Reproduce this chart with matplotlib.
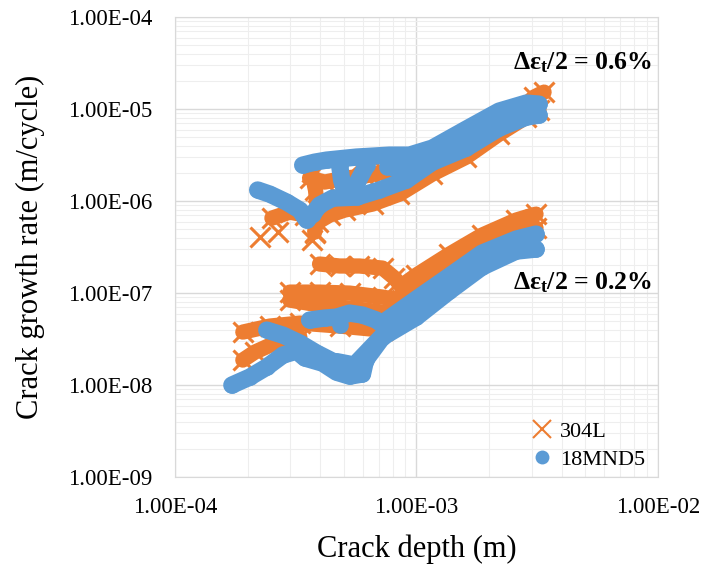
import matplotlib
matplotlib.use('Agg')
import matplotlib.pyplot as plt
from matplotlib.lines import Line2D
from matplotlib.ticker import FuncFormatter, LogLocator

plt.rcParams['font.family'] = ['Liberation Serif', 'DejaVu Serif']
plt.rcParams['mathtext.fontset'] = 'custom'
plt.rcParams['mathtext.rm'] = 'Liberation Serif'
plt.rcParams['mathtext.it'] = 'Liberation Serif:italic'
plt.rcParams['mathtext.bf'] = 'Liberation Serif:bold'

ORANGE = '#ED7D31'
BLUE = '#5B9BD5'

# ---- 304L, strain amplitude 0.6 % ----
o6_low_x = [2.52e-4, 2.99e-4, 3.45e-4, 3.90e-4, 4.37e-4, 5.04e-4, 6.58e-4, 8.51e-4, 1.165e-3, 1.61e-3, 2.20e-3, 2.85e-3, 3.22e-3]
o6_low_y = [6.53e-7, 7.59e-7, 7.04e-7, 5.91e-7, 7.04e-7, 7.98e-7, 9.28e-7, 1.19e-6, 1.97e-6, 3.01e-6, 5.35e-6, 8.18e-6, 9.75e-6]
o6_mid_x = [3.61e-4, 4.17e-4, 5.04e-4, 6.10e-4, 7.38e-4, 9.36e-4]
o6_mid_y = [1.78e-6, 1.61e-6, 1.78e-6, 1.87e-6, 2.07e-6, 2.17e-6]
o6_col_x = [3.68e-4, 3.82e-4, 3.90e-4, 3.79e-4]
o6_col_y = [2.07e-6, 1.32e-6, 7.98e-7, 4.60e-7]
o6_end_x = [2.67e-3, 3.07e-3, 3.38e-3]
o6_end_y = [9.75e-6, 1.35e-5, 1.53e-5]
o6_pts_x = [2.25e-4, 2.67e-4, 3.68e-4, 3.82e-4]
o6_pts_y = [4.06e-7, 4.60e-7, 3.77e-7, 4.49e-7]

# ---- 304L, strain amplitude 0.2 % ----
o2_up_x = [8.75e-4, 1.0e-3, 1.37e-3, 1.87e-3, 2.59e-3, 3.13e-3]
o2_up_y = [1.22e-7, 1.57e-7, 2.65e-7, 4.27e-7, 6.22e-7, 7.22e-7]
o2_lo_x = [8.75e-4, 1.37e-3, 1.87e-3, 2.59e-3, 3.13e-3]
o2_lo_y = [8.39e-8, 1.78e-7, 2.93e-7, 4.38e-7, 5.09e-7]
o2_a_x = [3.97e-4, 4.81e-4, 5.81e-4, 7.24e-4, 8.11e-4, 8.92e-4]
o2_a_y = [2.07e-7, 1.97e-7, 1.97e-7, 1.87e-7, 1.46e-7, 1.078e-7]
o2_b1_x = [2.99e-4, 3.97e-4, 5.29e-4, 7.24e-4, 8.51e-4]
o2_b1_y = [1.025e-7, 1.025e-7, 1.0e-7, 9.05e-8, 8.39e-8]
o2_b2_x = [2.99e-4, 3.97e-4, 5.29e-4, 7.24e-4, 8.51e-4]
o2_b2_y = [8.39e-8, 7.41e-8, 6.87e-8, 6.22e-8, 6.22e-8]
o2_c_x = [1.91e-4, 2.47e-4, 3.29e-4, 4.81e-4, 7.24e-4]
o2_c_y = [3.77e-8, 4.38e-8, 4.72e-8, 4.38e-8, 3.96e-8]
o2_d_x = [1.91e-4, 2.14e-4, 2.59e-4, 3.29e-4]
o2_d_y = [1.87e-8, 2.28e-8, 2.86e-8, 3.32e-8]

# ---- 18MND5, strain amplitude 0.6 % ----
b6_low_x = [2.20e-4, 2.47e-4, 2.90e-4, 3.29e-4, 3.51e-4, 3.72e-4, 3.97e-4, 4.50e-4, 5.65e-4, 7.03e-4, 9.09e-4, 1.165e-3, 1.61e-3, 2.20e-3, 2.85e-3, 3.22e-3]
b6_low_y = [1.32e-6, 1.19e-6, 9.75e-7, 7.98e-7, 6.22e-7, 7.22e-7, 9.05e-7, 1.078e-6, 1.105e-6, 1.32e-6, 1.69e-6, 2.65e-6, 3.77e-6, 6.22e-6, 8.18e-6, 8.61e-6]
b6_up_x = [3.38e-4, 3.79e-4, 4.25e-4, 5.65e-4, 7.73e-4, 9.36e-4, 1.165e-3, 1.61e-3, 2.20e-3, 2.85e-3, 3.22e-3]
b6_up_y = [2.46e-6, 2.65e-6, 2.79e-6, 3.01e-6, 3.16e-6, 3.16e-6, 3.77e-6, 6.06e-6, 9.51e-6, 1.162e-5, 1.133e-5]
b6_mid_x = [8.11e-4, 1.165e-3, 1.61e-3, 2.20e-3, 2.93e-3]
b6_mid_y = [2.28e-6, 3.16e-6, 4.84e-6, 7.59e-6, 9.75e-6]
b6_loop1_x = [4.81e-4, 4.90e-4, 5.04e-4]
b6_loop1_y = [2.46e-6, 1.69e-6, 1.32e-6]
b6_loop2_x = [6.22e-4, 5.70e-4]
b6_loop2_y = [2.46e-6, 1.61e-6]
b6_pts_x = [7.52e-4]
b6_pts_y = [2.34e-6]

# ---- 18MND5, strain amplitude 0.2 % ----
b2_up_x = [7.24e-4, 1.0e-3, 1.37e-3, 1.87e-3, 2.59e-3, 3.13e-3]
b2_up_y = [4.72e-8, 8.61e-8, 1.53e-7, 2.72e-7, 3.86e-7, 4.38e-7]
b2_low_x = [1.72e-4, 2.04e-4, 2.40e-4, 2.80e-4, 3.19e-4, 3.45e-4, 4.09e-4, 4.67e-4, 5.29e-4, 5.98e-4, 6.16e-4, 7.24e-4, 1.0e-3, 1.37e-3, 1.87e-3, 2.59e-3, 3.13e-3]
b2_low_y = [1.0e-8, 1.22e-8, 1.57e-8, 2.12e-8, 2.34e-8, 1.97e-8, 1.73e-8, 1.38e-8, 1.25e-8, 1.32e-8, 1.87e-8, 3.32e-8, 5.48e-8, 1.05e-7, 1.92e-7, 2.86e-7, 3.01e-7]
b2_mid_x = [4.67e-4, 5.54e-4, 8.51e-4, 1.165e-3, 1.61e-3, 2.20e-3, 2.93e-3]
b2_mid_y = [1.80e-8, 1.65e-8, 5.35e-8, 9.28e-8, 1.69e-7, 2.72e-7, 3.58e-7]
b2_br2_x = [2.40e-4, 2.80e-4, 3.29e-4, 3.86e-4, 4.67e-4]
b2_br2_y = [3.96e-8, 3.49e-8, 2.86e-8, 2.23e-8, 1.73e-8]
b2_br3_x = [3.61e-4, 4.17e-4, 4.67e-4, 5.29e-4, 5.98e-4, 6.83e-4, 7.73e-4]
b2_br3_y = [5.09e-8, 5.35e-8, 5.48e-8, 6.06e-8, 5.77e-8, 5.09e-8, 3.96e-8]
b2_pts_x = [4.81e-4]
b2_pts_y = [4.49e-8]

orange_lines = [(o6_low_x, o6_low_y), (o6_mid_x, o6_mid_y), (o6_col_x, o6_col_y), (o6_end_x, o6_end_y),
                (o2_up_x, o2_up_y), (o2_lo_x, o2_lo_y), (o2_a_x, o2_a_y),
                (o2_b1_x, o2_b1_y), (o2_b2_x, o2_b2_y), (o2_c_x, o2_c_y), (o2_d_x, o2_d_y)]
blue_lines = [(b6_low_x, b6_low_y), (b6_up_x, b6_up_y), (b6_mid_x, b6_mid_y), (b6_loop1_x, b6_loop1_y),
              (b6_loop2_x, b6_loop2_y), (b6_pts_x, b6_pts_y), (b2_up_x, b2_up_y), (b2_low_x, b2_low_y),
              (b2_mid_x, b2_mid_y), (b2_br2_x, b2_br2_y), (b2_br3_x, b2_br3_y), (b2_pts_x, b2_pts_y)]

fig = plt.figure(figsize=(7.09, 5.70), dpi=100)
ax = fig.add_axes([0.2468, 0.163, 0.681, 0.807])

# dense scatter bands drawn as thick marker strokes
for xs, ys in orange_lines:
    ax.plot(xs, ys, '-', lw=11, color=ORANGE, solid_capstyle='round',
            solid_joinstyle='round', marker='x', ms=14, mew=2.2, zorder=3)
ax.plot(o6_pts_x, o6_pts_y, ls='none', color=ORANGE, marker='x', ms=14, mew=2.2, zorder=3)
for xs, ys in blue_lines:
    ax.plot(xs, ys, '-', lw=12.5, color=BLUE, solid_capstyle='round',
            solid_joinstyle='round', marker='o', ms=12, mew=0, zorder=4)

ax.set_xscale('log')
ax.set_yscale('log')
ax.set_xlim(1e-4, 1e-2)
ax.set_ylim(1e-9, 1e-4)
ax.xaxis.set_minor_locator(LogLocator(base=10, subs=range(2, 10)))
ax.yaxis.set_minor_locator(LogLocator(base=10, subs=range(2, 10)))
fmt = FuncFormatter(lambda v, p: f'{v:.2E}')
ax.xaxis.set_major_formatter(fmt)
ax.yaxis.set_major_formatter(fmt)
ax.xaxis.set_minor_formatter(FuncFormatter(lambda v, p: ''))
ax.yaxis.set_minor_formatter(FuncFormatter(lambda v, p: ''))
ax.grid(which='major', color='#d9d9d9', lw=1.0, zorder=0)
ax.grid(which='minor', color='#eeeeee', lw=0.8, zorder=0)
ax.set_axisbelow(True)
ax.tick_params(which='both', length=0, labelsize=16.5, colors='black')
ax.tick_params(axis='y', pad=16)
ax.tick_params(axis='x', pad=14)
for s in ax.spines.values():
    s.set_color('#d9d9d9')

ax.set_xlabel('Crack depth (m)', fontsize=22)
ax.set_ylabel('Crack growth rate (m/cycle)', fontsize=22)
ax.xaxis.set_label_coords(0.5, -0.125)
ax.yaxis.set_label_coords(-0.27, 0.5)

ax.text(0.988, 0.90, r'Δε$_\mathbf{t}$/2 = 0.6%', transform=ax.transAxes,
        ha='right', va='center', fontsize=18.5, fontweight='bold')
ax.text(0.988, 0.422, r'Δε$_\mathbf{t}$/2 = 0.2%', transform=ax.transAxes,
        ha='right', va='center', fontsize=18.5, fontweight='bold')

handles = [Line2D([], [], ls='none', marker='x', color=ORANGE, ms=13, mew=1.5),
           Line2D([], [], ls='none', marker='o', color=BLUE, ms=10, mew=0)]
ax.legend(handles, ['304L', '18MND5'], loc='center left', bbox_to_anchor=(0.715, 0.068),
          frameon=False, fontsize=16, handlelength=1.0, handletextpad=0.3,
          labelspacing=0.35, borderpad=0)

fig.savefig('out.png', dpi=100)
